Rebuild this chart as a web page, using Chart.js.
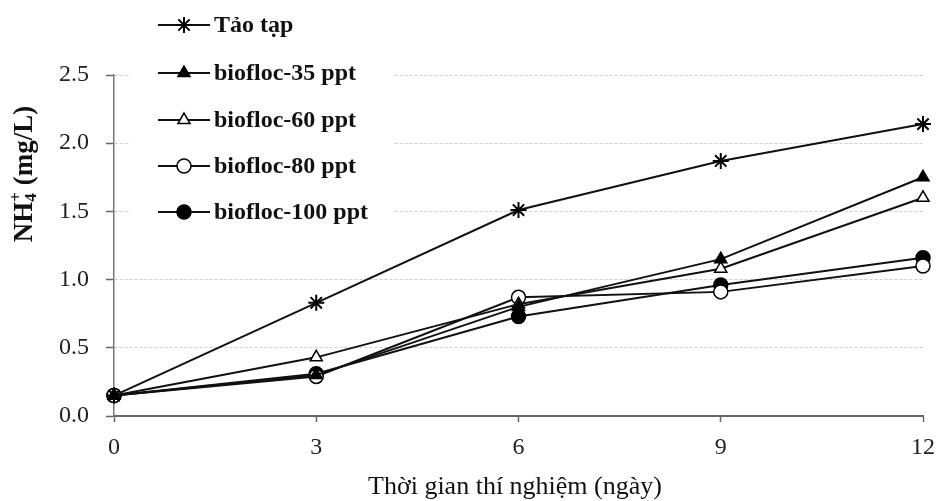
<!DOCTYPE html>
<html>
<head>
<meta charset="utf-8">
<script src="https://cdn.jsdelivr.net/npm/chart.js@4.4.1/dist/chart.umd.min.js"></script>
<style>
  html, body { margin: 0; padding: 0; background: #fff; }
  #wrap { width: 938px; height: 501px; }
</style>
</head>
<body>
<div id="wrap"><canvas id="chart" width="938" height="501"></canvas></div>
<script>
// days of the experiment and NH4+ values (mg/L)
const days = [0, 3, 6, 9, 12];
const taoTap = [0.15, 0.83, 1.51, 1.87, 2.14];
const biofloc35 = [0.15, 0.30, 0.80, 1.15, 1.75];
const biofloc60 = [0.15, 0.43, 0.82, 1.08, 1.60];
const biofloc80 = [0.15, 0.29, 0.87, 0.91, 1.10];
const biofloc100 = [0.15, 0.31, 0.73, 0.96, 1.16];
const yTicks = [0, 0.5, 1.0, 1.5, 2.0, 2.5];

const labels = ["Tảo tạp", "biofloc-35 ppt", "biofloc-60 ppt", "biofloc-80 ppt", "biofloc-100 ppt"];
const values = [taoTap, biofloc35, biofloc60, biofloc80, biofloc100];
const shapes = ["star", "triangle", "triangle", "circle", "circle"];
const fills = ["#000", "#000", "#fff", "#fff", "#000"];

const serif = "'Liberation Serif', 'Times New Roman', serif";

const datasets = values.map((vals, i) => ({
  label: labels[i],
  data: days.map((d, j) => ({ x: d, y: vals[j] })),
  borderColor: "#111",
  borderWidth: 2,
  pointStyle: shapes[i],
  pointRadius: shapes[i] === "star" ? 8 : 7,
  pointBorderWidth: shapes[i] === "star" ? 2 : 1.5,
  pointBackgroundColor: fills[i],
  pointBorderColor: "#000",
  tension: 0,
  clip: false
}));

// legend, axis titles drawn by hand
const extras = {
  id: "extras",
  afterDraw(chart) {
    const ctx = chart.ctx;
    ctx.save();
    // legend box covers the grid
    ctx.fillStyle = "#fff";
    ctx.fillRect(130, 0, 263, 236);
    const rows = [25, 73, 120, 166, 212];
    chart.data.datasets.forEach((ds, i) => {
      const y = rows[i];
      ctx.strokeStyle = "#111";
      ctx.lineWidth = 2;
      ctx.beginPath();
      ctx.moveTo(158, y);
      ctx.lineTo(210, y);
      ctx.stroke();
      ctx.fillStyle = ds.pointBackgroundColor;
      ctx.strokeStyle = "#000";
      ctx.lineWidth = ds.pointBorderWidth;
      Chart.helpers.drawPoint(ctx, { pointStyle: ds.pointStyle, radius: ds.pointRadius, rotation: 0, borderWidth: ds.pointBorderWidth }, 184, y);
      ctx.fillStyle = "#111";
      ctx.font = "bold 24px " + serif;
      ctx.textBaseline = "middle";
      ctx.textAlign = "left";
      ctx.fillText(ds.label, 214, y + 1);
    });

    // x title
    ctx.font = "26px " + serif;
    ctx.textAlign = "center";
    ctx.fillStyle = "#111";
    ctx.fillText("Thời gian thí nghiệm (ngày)", 515, 487);

    // y title with sub/superscript
    ctx.translate(25, 174);
    ctx.rotate(-Math.PI / 2);
    const big = "bold 27px " + serif;
    const small = "bold 17px " + serif;
    ctx.font = big;
    const wNH = ctx.measureText("NH").width;
    const wRest = ctx.measureText(" (mg/L)").width;
    ctx.font = small;
    const wSub = Math.max(ctx.measureText("4").width, ctx.measureText("+").width);
    let x = -(wNH + wSub + wRest) / 2;
    ctx.textAlign = "left";
    ctx.textBaseline = "middle";
    ctx.font = big;
    ctx.fillText("NH", x, 0);
    x += wNH;
    ctx.font = small;
    ctx.fillText("4", x, 7);
    ctx.fillText("+", x, -8);
    x += wSub;
    ctx.font = big;
    ctx.fillText(" (mg/L)", x, 0);
    ctx.restore();
  }
};

new Chart(document.getElementById("chart"), {
  type: "line",
  data: { datasets },
  options: {
    responsive: false,
    animation: false,
    layout: { padding: { top: 75, right: 15, left: 0, bottom: 0 } },
    plugins: { legend: { display: false }, tooltip: { enabled: false } },
    scales: {
      x: {
        type: "linear",
        min: 0,
        max: 12,
        afterFit: (s) => { s.height = 85; s.paddingRight = 0; s.paddingLeft = 0; },
        afterBuildTicks: (s) => { s.ticks = days.map(v => ({ value: v })); },
        ticks: { color: "#222", font: { family: serif, size: 24 }, padding: 11, maxRotation: 0 },
        grid: { drawOnChartArea: false, drawTicks: true, tickLength: 6, tickColor: "#666", tickWidth: 1.5 },
        border: { color: "#666", width: 2 }
      },
      y: {
        min: 0,
        max: 2.5,
        afterFit: (s) => { s.width = 114; s.paddingTop = 0; s.paddingBottom = 0; },
        afterBuildTicks: (s) => { s.ticks = yTicks.map(v => ({ value: v })); },
        ticks: { color: "#222", font: { family: serif, size: 24 }, padding: 17, callback: (v) => v.toFixed(1) },
        grid: { color: "#cdcdcd", lineWidth: 1, tickLength: 8, tickColor: "#666", tickWidth: 1.5 },
        border: { color: "#777", width: 1.5, dash: [3, 2] }
      }
    }
  },
  plugins: [extras]
});
</script>
</body>
</html>
